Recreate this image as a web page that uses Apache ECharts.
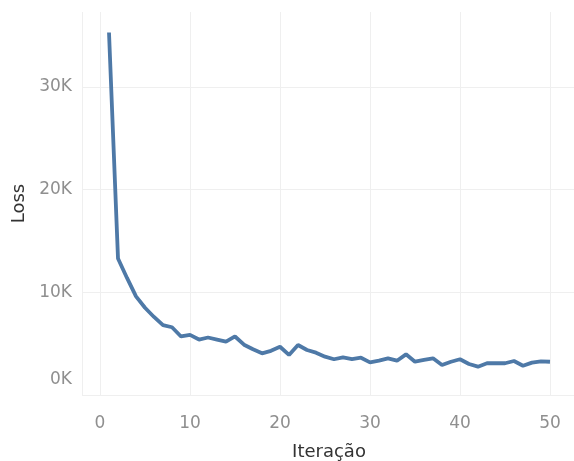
<!DOCTYPE html>
<html><head><meta charset="utf-8">
<script src="https://cdn.jsdelivr.net/npm/echarts@6/dist/echarts.min.js"></script>
<style>html,body{margin:0;padding:0;background:#fff}#c{width:574px;height:461px}</style>
</head><body><div id="c"></div>
<script>
const iterations = [1,2,3,4,5,6,7,8,9,10,11,12,13,14,15,16,17,18,19,20,21,22,23,24,25,26,27,28,29,30,31,32,33,34,35,36,37,38,39,40,41,42,43,44,45,46,47,48,49,50];
const loss = [35300,13300,11400,9600,8500,7600,6800,6600,5700,5850,5400,5600,5400,5200,5700,4900,4450,4060,4300,4700,3900,4870,4380,4120,3730,3480,3670,3500,3630,3180,3340,3570,3340,3960,3240,3410,3570,2920,3240,3480,3020,2760,3090,3090,3090,3310,2850,3150,3280,3240];
const yTicks = [0,10000,20000,30000];
const xTicks = [0,10,20,30,40,50];

const font = 'DejaVu Sans';
const fs = 17;
const tfs = 18;
const chart = echarts.init(document.getElementById('c'));
chart.setOption({
  animation:false,
  grid:[
    {left:82,right:-2,top:87,bottom:66,outerBoundsMode:'none',containLabel:false},
    {left:82,right:-2,top:12,bottom:66,outerBoundsMode:'none',containLabel:false}
  ],
  xAxis:[
    {gridIndex:0,type:'value',min:-2,max:52.89,show:false},
    {gridIndex:1,type:'value',min:-2,max:52.89,
     name:'Iteração',nameLocation:'middle',nameGap:48,
     nameTextStyle:{color:'#333',fontSize:tfs,fontFamily:font},
     axisLine:{show:false},axisTick:{show:false},
     splitLine:{show:true,lineStyle:{color:'#efefef',width:1}},
     axisLabel:{color:'#8f8f8f',fontSize:fs,fontFamily:font,margin:20,showMinLabel:false,showMaxLabel:false,
       formatter:v=>xTicks.includes(v)?String(v):''}}
  ],
  yAxis:[
    {gridIndex:0,type:'value',min:0,max:30000,interval:10000,
     axisLine:{show:false},axisTick:{show:false},
     splitLine:{show:true,lineStyle:{color:'#efefef',width:1}},
     axisLabel:{color:'#8f8f8f',fontSize:fs,fontFamily:font,margin:10,
       formatter:v=>yTicks.includes(v)?(v===0?'{z|0K}':(v/1000)+'K'):'',
       rich:{z:{color:'#8f8f8f',fontSize:fs,fontFamily:font,padding:[0,0,30,0]}}}},
    {gridIndex:1,type:'value',min:0,max:37300,
     name:'Loss',nameLocation:'middle',nameGap:54,
     nameTextStyle:{color:'#333',fontSize:tfs,fontFamily:font},
     axisLine:{show:false},axisTick:{show:false},axisLabel:{show:false},splitLine:{show:false}}
  ],
  series:[{
    type:'line',xAxisIndex:1,yAxisIndex:1,
    data:iterations.map((x,i)=>[x,loss[i]]),
    showSymbol:false,symbol:'none',
    lineStyle:{color:'#4e79a7',width:3.8},
    itemStyle:{color:'#4e79a7'}
  }]
});
</script></body></html>
